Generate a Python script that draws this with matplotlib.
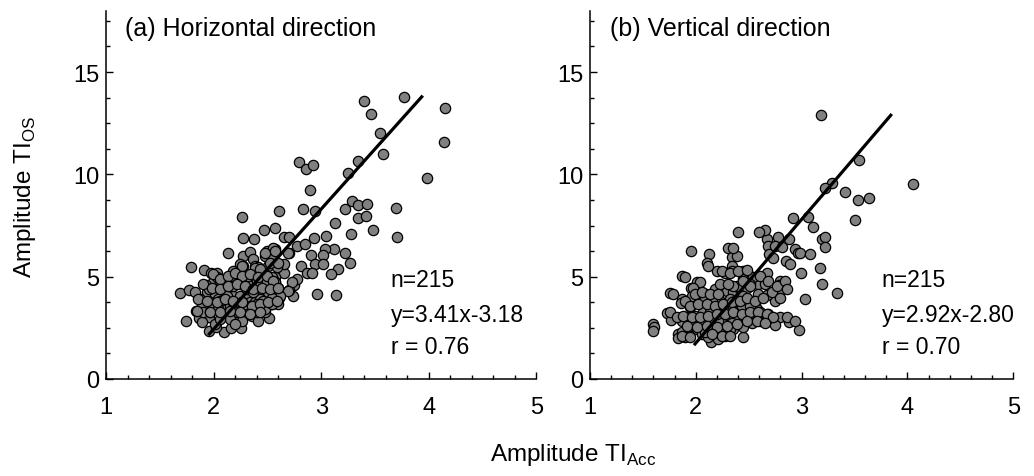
import numpy as np
import matplotlib
matplotlib.use('Agg')
import matplotlib.pyplot as plt

plt.rcParams['font.family'] = ['Liberation Sans', 'DejaVu Sans']
plt.rcParams['mathtext.fontset'] = 'custom'
plt.rcParams['mathtext.rm'] = 'Liberation Sans'

# (a) horizontal direction
hor_x = [3.772, 3.40, 3.462, 4.150, 3.546, 4.138, 3.577, 3.344, 3.251, 3.980,
         2.795, 2.857, 2.919, 2.895, 2.941, 2.826, 2.603, 3.288, 3.338, 3.422,
         3.223, 3.691, 3.344, 3.412, 3.701, 3.484, 3.279, 3.127, 3.040, 2.936,
         2.265, 2.470, 2.567, 2.268, 2.374, 2.656, 2.702, 2.771, 2.849, 2.129,
         3.115, 3.034, 3.019, 2.904, 3.223, 3.264, 2.941, 3.019, 2.812, 3.152,
         3.087, 2.864, 2.910, 2.653, 2.653, 2.702, 2.963, 3.136, 2.740, 2.750,
         2.771, 2.702, 2.609, 2.510, 1.788, 1.905, 1.685, 1.772, 1.738, 1.952,
         2.095, 2.256, 2.160, 2.020, 1.831, 1.865, 1.958, 1.889,
         2.268, 2.337, 2.275, 2.362, 2.383, 2.244, 1.971, 2.027, 2.058, 1.996,
         1.949, 1.934, 2.011, 2.089, 2.166, 2.228, 2.259, 2.306, 2.337, 2.368,
         2.399, 1.825, 1.872, 1.887, 1.965, 2.042, 2.120, 2.182, 2.244, 2.321,
         2.383, 1.903, 1.965, 2.027, 2.089, 2.151, 2.213, 2.259, 2.337, 2.383,
         2.321, 2.352, 2.259, 2.213, 2.011, 2.414,
         2.492, 2.569, 2.476, 2.554, 2.693, 2.414, 2.507, 2.585, 2.399, 2.476,
         2.569, 2.445, 2.523, 2.569, 2.724, 2.693, 2.445, 2.523, 2.600, 2.430,
         2.538, 2.616, 2.538, 2.600, 2.414, 2.476, 2.476, 2.430,
         1.924, 1.958, 2.026, 2.057, 2.150, 2.181, 2.243, 2.321, 2.383, 2.429,
         2.259, 2.181, 2.243, 2.305, 2.367, 2.429, 2.491, 2.538, 2.569, 2.507,
         2.538, 2.460, 2.398, 2.336, 2.274, 2.212, 2.181, 2.119, 2.057, 1.995,
         2.042, 2.150, 2.305, 2.398, 2.475, 2.538, 2.259, 2.197, 2.057,
         2.554, 2.476, 2.569, 2.523, 2.600,
         1.996, 2.058, 2.135, 2.197, 2.259, 2.337, 2.414, 2.492, 2.554,
         1.903, 1.980, 2.058, 2.135, 2.213, 2.290, 2.368, 2.445, 2.523, 2.600,
         1.856, 1.934, 2.027, 2.104, 2.182, 2.259, 2.352, 2.430, 2.507, 2.585,
         1.841, 1.965, 2.058, 2.151, 2.244, 2.337, 2.430]
hor_y = [13.79, 13.61, 12.93, 13.25, 12.00, 11.58, 11.02, 10.67, 10.08, 9.84,
         10.60, 10.24, 10.47, 9.25, 8.20, 8.29, 8.20, 8.68, 8.49, 8.54,
         8.31, 8.36, 7.89, 7.97, 6.94, 7.27, 7.09, 7.61, 7.01, 6.89,
         7.90, 7.27, 7.40, 6.89, 6.83, 6.93, 6.96, 6.49, 6.59, 6.15,
         6.36, 6.34, 6.05, 6.07, 6.18, 5.69, 5.61, 5.61, 5.50, 5.37,
         5.11, 5.17, 5.17, 5.20, 5.64, 6.18, 4.16, 4.10, 4.07, 4.60,
         4.88, 4.33, 3.98, 2.96, 5.45, 5.33, 4.20, 4.36, 2.85, 2.33,
         2.28, 2.47, 2.49, 2.52, 3.33, 2.98, 3.01, 2.80,
         6.02, 6.21, 5.53, 5.85, 5.50, 5.61, 5.17, 5.17, 4.80, 4.72,
         4.47, 4.23, 4.15, 4.39, 4.72, 4.72, 5.04, 5.04, 4.72, 5.04,
         4.80, 4.23, 3.90, 3.58, 3.74, 3.90, 3.90, 4.07, 4.07, 4.15,
         4.31, 3.25, 3.25, 3.41, 3.50, 3.58, 3.41, 3.74, 3.74, 3.74,
         3.25, 3.09, 2.93, 3.17, 2.68, 2.84,
         6.26, 6.34, 6.02, 6.02, 6.18, 5.45, 5.53, 5.45, 5.12, 5.12,
         4.96, 4.80, 4.72, 4.72, 4.72, 4.31, 4.31, 4.39, 4.47, 3.90,
         3.98, 4.07, 3.66, 3.66, 3.50, 3.41, 3.25, 3.33,
         4.59, 4.39, 4.96, 4.80, 4.80, 5.28, 5.20, 5.04, 5.40, 5.37,
         5.53, 4.55, 4.63, 4.39, 4.23, 4.55, 4.80, 4.96, 4.72, 4.23,
         3.98, 3.82, 3.66, 3.58, 3.41, 3.25, 3.74, 4.07, 3.82, 3.66,
         3.41, 2.93, 3.17, 3.25, 3.41, 3.66, 2.85, 2.68, 2.93,
         6.42, 6.18, 6.26, 5.69, 5.69,
         5.12, 4.88, 5.04, 5.20, 5.04, 5.12, 4.96, 5.04, 4.80,
         4.63, 4.47, 4.39, 4.55, 4.63, 4.55, 4.39, 4.47, 4.39, 4.47,
         3.90, 3.82, 3.74, 3.90, 3.82, 3.74, 3.58, 3.66, 3.74, 3.82,
         3.33, 3.25, 3.25, 3.33, 3.25, 3.17, 3.25]

# (b) vertical direction
ver_x = [3.180, 3.543, 4.056, 3.284, 3.221, 3.410, 3.536, 3.634, 3.505, 2.916,
         3.064, 3.111, 3.190, 3.221, 3.221, 2.884, 2.780, 2.670, 2.654, 2.600,
         2.396, 2.307, 2.345, 2.345, 2.339, 2.276, 2.197, 2.128, 2.103, 2.118,
         1.951, 1.866, 2.686, 2.695, 2.749, 2.733, 2.812, 2.938, 2.963, 2.985,
         3.079, 2.852, 2.890, 2.998, 3.171, 3.196, 3.338, 3.035, 2.978, 2.884,
         2.796, 2.749, 2.796, 2.789, 2.789, 2.749, 2.670, 2.575, 2.591, 2.654,
         2.670, 2.591, 2.449, 2.141, 1.756, 1.599, 1.608, 1.592, 1.725, 1.762,
         1.835, 1.835, 1.866, 1.898, 2.008, 1.951, 2.008, 1.961, 1.866, 1.860,
         1.945, 2.093, 2.040, 2.118, 2.065, 1.992, 1.929, 1.866, 1.961, 2.071,
         2.103, 2.166, 2.197, 2.244, 2.292, 2.213, 2.181, 2.244, 2.292, 2.355,
         2.418, 2.443, 2.449, 2.481, 2.544, 2.213, 2.229, 2.323, 2.418, 2.481,
         2.213, 2.292, 2.355, 2.418, 2.497, 2.560, 2.575, 2.607, 2.166, 2.229,
         2.323, 2.386, 2.465, 2.544, 2.607, 2.670, 2.686, 2.339, 2.260, 2.213,
         2.134, 2.040, 2.008, 2.055, 2.118, 2.355, 2.449, 2.528, 2.323, 2.279,
         2.077, 2.150, 2.087, 2.134, 2.371, 2.434, 2.513, 2.443, 2.386, 2.513,
         2.355,
         2.244, 2.323, 2.402, 2.487, 2.386, 2.355, 2.229, 2.307, 2.040, 1.977,
         1.898, 1.788, 1.898, 1.993, 2.055, 2.134, 2.213,
         1.945, 2.024, 2.103, 2.181, 2.260, 2.339, 2.418, 2.481, 2.560, 2.638,
         2.717, 2.796,
         1.756, 1.819, 1.882, 1.961, 2.040, 2.118, 2.197, 2.276, 2.355, 2.434,
         2.512, 2.591, 2.670, 2.733,
         1.914, 2.008, 2.103, 2.197, 2.292, 2.386, 2.481, 2.575, 2.654, 2.859,
         2.938, 1.866, 1.945, 2.150, 2.244, 2.323,
         2.449, 2.512, 2.607, 2.686, 2.764, 2.843, 2.859]
ver_y = [12.89, 10.70, 9.54, 9.56, 9.33, 9.14, 8.75, 8.85, 7.77, 7.87,
         7.93, 7.45, 6.86, 6.96, 6.47, 6.86, 6.96, 6.83, 7.28, 7.19,
         7.19, 6.41, 5.97, 5.50, 5.28, 5.17, 5.28, 6.10, 5.69, 5.53,
         6.26, 5.01, 6.50, 6.10, 6.50, 5.93, 6.47, 6.34, 6.15, 6.18,
         6.10, 5.77, 5.61, 5.20, 5.40, 4.63, 4.20, 3.93, 2.39, 2.80,
         3.01, 2.63, 4.80, 4.59, 4.26, 3.82, 5.20, 4.88, 4.63, 4.63,
         4.10, 4.15, 2.03, 1.79, 4.20, 2.68, 2.52, 2.36, 3.22, 2.89,
         2.20, 1.98, 2.28, 2.03, 4.72, 4.47, 4.23, 4.07, 3.90, 3.71,
         3.50, 4.15, 3.74, 3.58, 3.25, 3.09, 3.01, 2.85, 2.60, 2.68,
         2.36, 2.52, 2.20, 2.08, 2.20, 1.95, 4.39, 4.55, 4.31, 4.23,
         4.39, 5.28, 4.88, 4.47, 4.96, 4.11, 3.82, 3.90, 3.90, 3.90,
         3.50, 3.50, 3.58, 3.41, 3.25, 3.66, 3.41, 3.25, 3.33, 3.17,
         3.09, 3.01, 3.01, 2.85, 2.85, 2.93, 3.17, 2.76, 2.68, 2.85,
         2.93, 2.85, 2.44, 2.20, 2.03, 2.44, 2.52, 2.76, 2.44, 2.11,
         3.82, 3.90, 2.28, 3.25, 3.82, 3.58, 3.58, 4.07, 4.55, 4.63,
         4.55,
         5.28, 5.20, 5.28, 5.33, 6.02, 6.42, 4.63, 4.63, 4.72, 4.47,
         4.96, 4.15, 3.82, 4.15, 4.23, 4.15, 4.15,
         3.58, 3.66, 3.66, 3.58, 3.66, 3.74, 3.82, 3.98, 3.82, 3.98,
         4.23, 3.98,
         3.25, 3.01, 3.09, 3.01, 3.01, 3.09, 3.17, 3.17, 3.25, 3.17,
         3.25, 3.25, 3.17, 3.01,
         2.60, 2.52, 2.60, 2.52, 2.60, 2.68, 2.85, 2.85, 2.76, 3.01,
         2.85, 2.11, 2.03, 2.20, 2.11, 2.11,
         4.80, 4.55, 5.04, 4.80, 4.55, 4.80, 4.39]

# fitted lines as drawn in the figure (end points)
fit_hor_x = [1.958, 3.934]
fit_hor_y = [2.20, 13.79]
fit_ver_x = [1.992, 3.842]
fit_ver_y = [1.71, 12.89]

titles = ['(a) Horizontal direction', '(b) Vertical direction']
stats_txt = [['n=215', 'y=3.41x-3.18', 'r = 0.76'],
             ['n=215', 'y=2.92x-2.80', 'r = 0.70']]
stats_y = [4.88, 3.17, 1.61]

fig = plt.figure(figsize=(10.34, 4.77), dpi=100)
ax1 = fig.add_axes([0.1028, 0.2034, 0.4159, 0.7721])
ax2 = fig.add_axes([0.5706, 0.2034, 0.4094, 0.7721])

panels = [(ax1, hor_x, hor_y, fit_hor_x, fit_hor_y, 3.645, 1.174),
          (ax2, ver_x, ver_y, fit_ver_x, fit_ver_y, 3.757, 1.189)]

for i, (ax, xs, ys, fx, fy, tx, ttx) in enumerate(panels):
    ax.scatter(xs, ys, s=55, c='#808080', edgecolors='black', linewidths=0.9, zorder=2)
    ax.plot(fx, fy, color='black', lw=2.3, zorder=3)
    ax.set_xlim(1, 5)
    ax.set_ylim(0, 18)
    ax.set_xticks([1, 2, 3, 4, 5])
    ax.set_yticks([0, 5, 10, 15])
    ax.set_xticks(np.arange(1, 5.01, 0.2), minor=True)
    ax.set_yticks(np.arange(0, 18.01, 1.25), minor=True)
    ax.spines['top'].set_visible(False)
    ax.spines['right'].set_visible(False)
    for sp in ['left', 'bottom']:
        ax.spines[sp].set_linewidth(1.1)
    ax.tick_params(which='both', direction='in', labelsize=17, width=1.0)
    ax.tick_params(which='major', length=5)
    ax.tick_params(which='minor', length=3)
    ax.tick_params(axis='x', which='major', pad=12)
    ax.tick_params(axis='y', which='major', pad=5)
    ax.text(ttx, 17.17, titles[i], fontsize=18, va='center', ha='left')
    for line, ly in zip(stats_txt[i], stats_y):
        ax.text(tx, ly, line, fontsize=16.5, va='center', ha='left')

fig.text(25 / 1034, 1 - 197 / 477, r'Amplitude TI$_{\mathregular{OS}}$', rotation=90,
         fontsize=17.5, ha='center', va='center')
fig.text(573 / 1034, 1 - 455 / 477, r'Amplitude TI$_{\mathregular{Acc}}$',
         fontsize=17.5, ha='center', va='center')

fig.savefig('out.png', dpi=100)
